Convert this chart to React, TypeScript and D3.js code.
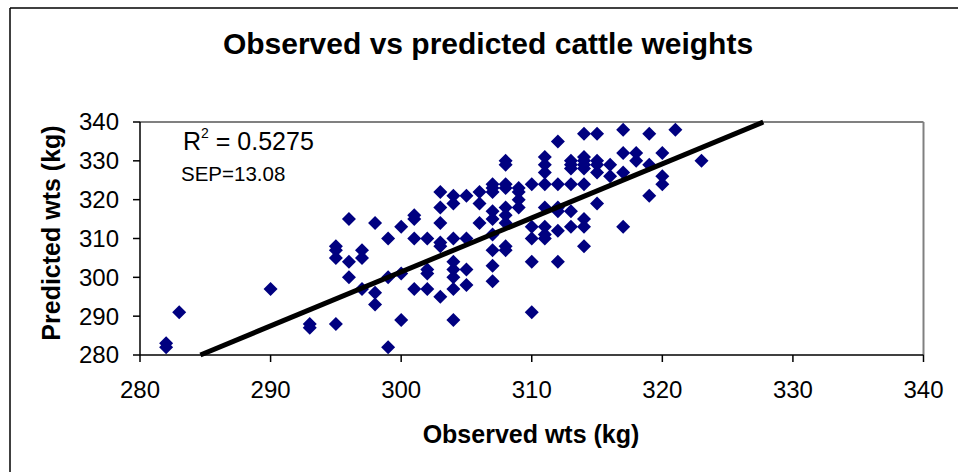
import React from "react";
import * as d3 from "d3";

// ---- data ----
const observedGroups: number[] = [282, 283, 290, 293, 295, 296, 297, 298, 299, 300, 301, 302, 303, 304, 305, 306, 307, 308, 309, 310, 311, 312, 313, 314, 315, 316, 317, 318, 319, 320, 321, 323];
const predictedGroups: number[][] = [
  [283, 282],
  [291],
  [297],
  [288, 287],
  [308, 307, 305, 288],
  [315, 304, 300],
  [307, 305, 297],
  [314, 296, 293],
  [310, 300, 282],
  [313, 301, 289],
  [316, 315, 310, 297],
  [310, 302, 301, 297],
  [322, 318, 314, 309, 308, 295],
  [321, 319, 310, 304, 302, 300, 297, 289],
  [321, 310, 302, 298],
  [322, 319, 314],
  [324, 323, 322, 317, 315, 311, 307, 303, 299],
  [330, 329, 324, 323, 318, 316, 314, 308, 307],
  [323, 322, 320, 318],
  [324, 313, 310, 304, 291],
  [331, 329, 327, 324, 318, 313, 311, 310],
  [335, 324, 318, 317, 312, 304],
  [330, 329, 328, 324, 317, 313],
  [337, 331, 330, 329, 328, 324, 315, 313, 308],
  [337, 330, 329, 327, 319],
  [329, 326],
  [338, 332, 327, 313],
  [332, 330],
  [337, 329, 321],
  [332, 326, 324],
  [338],
  [330],
];
const xTicks: number[] = [280, 290, 300, 310, 320, 330, 340];
const yTicks: number[] = [280, 290, 300, 310, 320, 330, 340];
const trendSlope = 1.392;
const trendIntercept = -116.2;
const rSquaredLabel = "0.5275";
const sepLabel = "SEP=13.08";
const titleText = "Observed vs predicted cattle weights";
const xTitle = "Observed wts (kg)";
const yTitle = "Predicted wts (kg)";

const FONT = "Arial, 'Liberation Sans', Helvetica, sans-serif";

export default function App() {
  const W = 958;
  const H = 472;
  const left = 140, right = 923.5, top = 122, bottom = 355;

  const x = d3.scaleLinear().domain([280, 340]).range([left, right]);
  const y = d3.scaleLinear().domain([280, 340]).range([bottom, top]);

  const points = observedGroups.flatMap((o, i) => predictedGroups[i].map((p) => ({ o, p })));

  const diamond = d3.symbol(d3.symbolSquare, 98)() as string;

  const xAtY = (v: number) => (v - trendIntercept) / trendSlope;
  const x0 = Math.max(280, xAtY(280));
  const x1 = Math.min(340, xAtY(340));
  const line = d3.line<number>().x((d) => x(d)).y((d) => y(trendSlope * d + trendIntercept));

  return (
    <svg width={W} height={H} style={{ position: "absolute", left: 0, top: 0, background: "#fff" }} fontFamily={FONT}>
      <rect x={0} y={0} width={W} height={H} fill="#fff" />
      <line x1={10} y1={8} x2={W} y2={8} stroke="#000" strokeWidth={1.5} />
      <line x1={10} y1={8} x2={10} y2={H} stroke="#000" strokeWidth={1.5} />

      <text x={488} y={54} textAnchor="middle" fontSize={30} fontWeight="bold" fill="#000">{titleText}</text>

      <line x1={left} y1={top} x2={right} y2={top} stroke="#808080" strokeWidth={2} />
      <line x1={right} y1={top} x2={right} y2={bottom} stroke="#808080" strokeWidth={2} />

      {points.map((d, i) => (
        <path key={i} d={diamond} transform={`translate(${x(d.o)},${y(d.p)}) rotate(45)`} fill="#000080" />
      ))}

      <path d={line([x0, x1]) as string} stroke="#000" strokeWidth={5} fill="none" />

      <line x1={left} y1={top} x2={left} y2={bottom} stroke="#000" strokeWidth={1.5} />
      <line x1={left} y1={bottom} x2={right} y2={bottom} stroke="#000" strokeWidth={1.5} />
      {yTicks.map((t) => (
        <g key={"y" + t}>
          <line x1={left - 7} x2={left} y1={y(t)} y2={y(t)} stroke="#000" strokeWidth={1.5} />
          <text x={119} y={y(t)} dy="0.35em" textAnchor="end" fontSize={24} fill="#000">{t}</text>
        </g>
      ))}
      {xTicks.map((t) => (
        <g key={"x" + t}>
          <line x1={x(t)} x2={x(t)} y1={bottom} y2={bottom + 7} stroke="#000" strokeWidth={1.5} />
          <text x={x(t)} y={390} dy="0.35em" textAnchor="middle" fontSize={24} fill="#000">{t}</text>
        </g>
      ))}

      <text x={183} y={150} fontSize={25} fill="#000">
        R<tspan fontSize={14} dy={-12}>2</tspan><tspan dy={12}>{" = " + rSquaredLabel}</tspan>
      </text>
      <text x={181} y={181} fontSize={20.5} fill="#000">{sepLabel}</text>

      <text x={531} y={443} textAnchor="middle" fontSize={25} fontWeight="bold" fill="#000">{xTitle}</text>
      <text transform={`translate(60,233) rotate(-90)`} textAnchor="middle" fontSize={25} fontWeight="bold" fill="#000">{yTitle}</text>
    </svg>
  );
}
